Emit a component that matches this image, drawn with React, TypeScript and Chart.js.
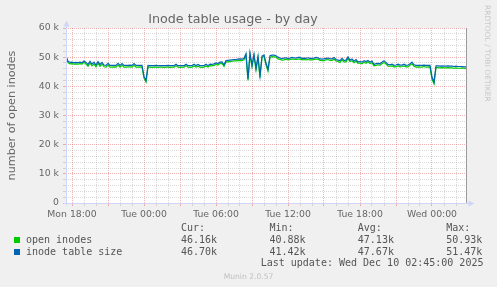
import React, { useEffect, useRef } from "react";
import { Chart, registerables } from "chart.js";

Chart.register(...registerables);

// Time axis: hours counted from Mon 00:00; samples every 10 minutes
const START_HOUR = 17.5; // Mon 17:30
const END_HOUR = 50 + 50 / 60; // Wed 02:50
const STEP_MINUTES = 10;

// inode table size (thousands)
const inodeTableSize = [
  50.4, 48.6, 48.2, 48.3, 48.1, 48.2, 48.1, 48.3, 48.1, 48.7,
  48.2, 47.5, 48.6, 47.6, 48.3, 47.3, 48.5, 47.5, 48.2, 47.3,
  47.2, 47.9, 47.2, 47.2, 47.2, 47.2, 47.9, 47.2, 47.8, 47.2,
  47.2, 47.2, 47.3, 47.2, 47.8, 47.2, 47.2, 47.2, 47.2, 43.4,
  42.0, 47.2, 47.1, 47.1, 47.1, 47.2, 47.1, 47.1, 47.1, 47.1,
  47.1, 47.2, 47.1, 47.1, 47.1, 47.6, 47.1, 47.1, 47.1, 47.1,
  47.6, 47.1, 47.1, 47.1, 47.6, 47.1, 47.5, 47.1, 47.1, 47.1,
  47.6, 47.1, 47.6, 47.5, 47.7, 48.0, 47.8, 48.3, 48.4, 47.4,
  48.8, 48.9, 49.0, 49.1, 49.2, 49.2, 49.3, 49.4, 49.3, 49.6,
  51.2, 42.5, 51.47, 47.2, 51.0, 46.2, 50.3, 43.6, 50.4, 50.8,
  48.0, 45.8, 50.5, 50.7, 50.7, 50.5, 50.0, 49.7, 49.5, 49.7,
  49.8, 49.6, 49.7, 49.9, 49.8, 49.7, 49.9, 49.9, 49.6, 49.7,
  49.6, 49.8, 49.6, 49.6, 49.7, 49.9, 49.8, 49.4, 49.3, 49.4,
  49.6, 49.7, 49.5, 49.4, 49.9, 49.2, 49.0, 48.8, 49.6, 48.9,
  49.0, 50.1, 49.0, 49.4, 48.6, 49.2, 48.4, 48.5, 48.3, 48.8,
  48.5, 48.9, 48.3, 48.7, 47.5, 47.8, 47.9, 47.8, 48.3, 48.8,
  48.2, 47.5, 47.4, 47.6, 47.2, 47.3, 47.6, 47.3, 47.3, 47.6,
  47.2, 47.3, 47.7, 48.3, 47.4, 47.2, 47.2, 47.2, 47.2, 47.3,
  47.2, 47.2, 47.2, 43.2, 41.42, 47.0, 47.0, 46.9, 47.0, 46.9,
  46.9, 47.0, 46.9, 46.9, 46.8, 46.9, 46.8, 46.8, 46.8, 46.7,
  46.7,
];

// open inodes (thousands)
const openInodes = [
  49.9, 48.1, 47.7, 47.8, 47.6, 47.7, 47.6, 47.8, 47.6, 48.2,
  47.6, 46.9, 48.0, 47.0, 47.7, 46.7, 47.9, 46.9, 47.6, 46.7,
  46.6, 47.3, 46.6, 46.6, 46.7, 46.6, 47.3, 46.6, 47.2, 46.6,
  46.6, 46.7, 46.7, 46.6, 47.2, 46.6, 46.6, 46.7, 46.6, 42.8,
  41.5, 46.6, 46.6, 46.5, 46.6, 46.6, 46.5, 46.6, 46.6, 46.5,
  46.6, 46.6, 46.5, 46.6, 46.6, 47.1, 46.6, 46.5, 46.6, 46.6,
  47.1, 46.6, 46.5, 46.6, 47.0, 46.6, 46.9, 46.6, 46.5, 46.6,
  47.0, 46.6, 47.1, 47.0, 47.2, 47.5, 47.3, 47.8, 47.9, 46.8,
  48.3, 48.4, 48.5, 48.6, 48.7, 48.7, 48.8, 48.9, 48.8, 49.1,
  50.6, 42.0, 50.93, 46.7, 50.5, 45.6, 49.8, 43.0, 49.9, 50.3,
  47.4, 45.2, 49.9, 50.2, 50.1, 50.0, 49.4, 49.2, 49.0, 49.1,
  49.3, 49.1, 49.2, 49.3, 49.3, 49.2, 49.3, 49.4, 49.1, 49.2,
  49.1, 49.2, 49.1, 49.1, 49.2, 49.3, 49.3, 48.9, 48.8, 48.8,
  49.1, 49.2, 48.9, 48.9, 49.3, 48.7, 48.5, 48.2, 49.1, 48.4,
  48.4, 49.6, 48.5, 48.8, 48.1, 48.6, 47.9, 48.0, 47.7, 48.3,
  47.9, 48.4, 47.8, 48.1, 47.0, 47.2, 47.4, 47.2, 47.8, 48.2,
  47.7, 46.9, 46.9, 47.0, 46.7, 46.7, 47.1, 46.7, 46.8, 47.0,
  46.7, 46.7, 47.2, 47.7, 46.9, 46.6, 46.7, 46.6, 46.6, 46.8,
  46.6, 46.7, 46.6, 42.4, 40.88, 46.4, 46.4, 46.3, 46.4, 46.3,
  46.3, 46.4, 46.3, 46.3, 46.2, 46.3, 46.2, 46.2, 46.3, 46.2,
  46.16,
];

const xLabelHours = [18, 24, 30, 36, 42, 48];
const xLabelTexts = ["Mon 18:00", "Tue 00:00", "Tue 06:00", "Tue 12:00", "Tue 18:00", "Wed 00:00"];

const seriesNames = ["open inodes", "inode table size"];
const seriesColors = ["#00CC00", "#0066B3"];
const curValues = ["46.16k", "46.70k"];
const minValues = ["40.88k", "41.42k"];
const avgValues = ["47.13k", "47.67k"];
const maxValues = ["50.93k", "51.47k"];

const TITLE = "Inode table usage - by day";
const Y_TITLE = "number of open inodes";
const LAST_UPDATE = "Last update: Wed Dec 10 02:45:00 2025";
const VERSION = "Munin 2.0.57";
const WATERMARK = "RRDTOOL / TOBI OETIKER";

const FONT_COLOR = "#666666";
const AXIS_COLOR = "#CFD6F8";
const MINOR_GRID = "rgba(143,143,143,0.32)";
const MAJOR_GRID = "rgba(222,79,79,0.42)";

const toPoints = (vals: number[]) =>
  vals.map((v, i) => ({ x: START_HOUR + (i * STEP_MINUTES) / 60, y: v }));

const framePlugin = {
  id: "muninFrame",
  beforeDraw(chart: any) {
    const { ctx, chartArea } = chart;
    ctx.save();
    ctx.fillStyle = "#F0F0F0";
    ctx.fillRect(0, 0, chart.width, chart.height);
    ctx.fillStyle = "#FFFFFF";
    ctx.fillRect(chartArea.left, chartArea.top, chartArea.right - chartArea.left, chartArea.bottom - chartArea.top);
    ctx.restore();
  },
  afterDraw(chart: any) {
    const { ctx, chartArea } = chart;
    const l = Math.round(chartArea.left) + 0.5;
    const b = Math.round(chartArea.bottom) + 0.5;
    const r = Math.round(chartArea.right) + 0.5;
    const t = Math.round(chartArea.top) + 0.5;
    ctx.save();
    // right frame line
    ctx.strokeStyle = "#9A9A9A";
    ctx.lineWidth = 1;
    ctx.beginPath();
    ctx.moveTo(r, t - 0.5);
    ctx.lineTo(r, b);
    ctx.stroke();
    // axes
    ctx.strokeStyle = AXIS_COLOR;
    ctx.beginPath();
    ctx.moveTo(l, b + 2);
    ctx.lineTo(l, t - 6);
    ctx.moveTo(l - 3, b);
    ctx.lineTo(r + 3, b);
    ctx.stroke();
    ctx.fillStyle = AXIS_COLOR;
    ctx.beginPath();
    ctx.moveTo(l - 3, t - 2);
    ctx.lineTo(l + 3, t - 2);
    ctx.lineTo(l, t - 8);
    ctx.closePath();
    ctx.fill();
    ctx.beginPath();
    ctx.moveTo(r + 2, b - 3);
    ctx.lineTo(r + 2, b + 3);
    ctx.lineTo(r + 8, b);
    ctx.closePath();
    ctx.fill();
    ctx.restore();
  },
};

const mono = (left: number, top: number, color = "#555555"): React.CSSProperties => ({
  position: "absolute",
  left,
  top,
  fontFamily: "'DejaVu Sans Mono', monospace",
  fontSize: 10,
  lineHeight: "12px",
  color,
  whiteSpace: "pre",
});

export default function App() {
  const canvasRef = useRef<HTMLCanvasElement | null>(null);

  useEffect(() => {
    const canvas = canvasRef.current;
    if (!canvas) return;
    const tickFont = { family: "'DejaVu Sans', sans-serif", size: 9.3 };
    const chart = new Chart(canvas, {
      type: "line",
      data: {
        datasets: [
          {
            label: seriesNames[0],
            data: toPoints(openInodes),
            borderColor: seriesColors[0],
            backgroundColor: seriesColors[0],
            borderWidth: 1.2,
            pointRadius: 0,
            tension: 0,
            order: 2,
          },
          {
            label: seriesNames[1],
            data: toPoints(inodeTableSize),
            borderColor: seriesColors[1],
            backgroundColor: seriesColors[1],
            borderWidth: 1.2,
            pointRadius: 0,
            tension: 0,
            order: 1,
          },
        ],
      },
      options: {
        animation: false,
        responsive: false,
        devicePixelRatio: 1,
        layout: { padding: { left: 0, right: 31, top: 0, bottom: 0 } },
        plugins: {
          legend: { display: false },
          tooltip: { enabled: false },
          title: {
            display: true,
            text: TITLE,
            color: FONT_COLOR,
            font: { family: "'DejaVu Sans', sans-serif", size: 12.7, weight: "normal" },
            padding: { top: 12, bottom: 0.76 },
          },
        },
        scales: {
          x: {
            type: "linear",
            min: START_HOUR,
            max: END_HOUR,
            afterFit: (s: any) => {
              s.height = 84;
            },
            ticks: {
              stepSize: 1,
              includeBounds: false,
              autoSkip: false,
              maxRotation: 0,
              minRotation: 0,
              padding: 3,
              color: FONT_COLOR,
              font: tickFont,
              callback: (v: any) => {
                const k = xLabelHours.indexOf(Math.round(Number(v) * 1000) / 1000);
                return k >= 0 ? xLabelTexts[k] : "";
              },
            },
            grid: {
              color: (c: any) => (c.tick && Math.round(c.tick.value) % 3 === 0 ? MAJOR_GRID : MINOR_GRID),
              tickColor: (c: any) => (c.tick && Math.round(c.tick.value) % 3 === 0 ? MAJOR_GRID : MINOR_GRID),
              tickLength: 3,
              lineWidth: 1,
            },
            border: { display: false, dash: [1, 1] },
          },
          y: {
            type: "linear",
            min: 0,
            max: 60,
            afterFit: (s: any) => {
              s.width = 66;
            },
            ticks: {
              stepSize: 2,
              autoSkip: false,
              padding: 4,
              color: FONT_COLOR,
              font: tickFont,
              callback: (v: any) => {
                const n = Math.round(Number(v));
                if (n % 10 !== 0) return "";
                return n === 0 ? "0" : `${n} k`;
              },
            },
            grid: {
              color: (c: any) => (c.tick && Math.round(c.tick.value) % 10 === 0 ? MAJOR_GRID : MINOR_GRID),
              tickColor: (c: any) => (c.tick && Math.round(c.tick.value) % 10 === 0 ? MAJOR_GRID : MINOR_GRID),
              tickLength: 3,
              lineWidth: 1,
            },
            border: { display: false, dash: [1, 1] },
            title: {
              display: true,
              text: Y_TITLE,
              color: FONT_COLOR,
              font: { family: "'DejaVu Sans', sans-serif", size: 11.2 },
              padding: { top: 5, bottom: 0 },
            },
          },
        },
      } as any,
      plugins: [framePlugin],
    });
    return () => chart.destroy();
  }, []);

  const colLeft = [181, 269.5, 357.8, 446.2];
  const rowTop = [233.5, 245.5];

  return (
    <div
      style={{
        position: "fixed",
        left: 0,
        top: 0,
        width: 497,
        height: 287,
        background: "#F0F0F0",
        overflow: "hidden",
      }}
    >
      <canvas ref={canvasRef} width={497} height={287} style={{ position: "absolute", left: 0, top: 0, width: 497, height: 287 }} />
      <div style={mono(colLeft[0], 221.5)}>Cur:</div>
      <div style={mono(colLeft[1], 221.5)}>Min:</div>
      <div style={mono(colLeft[2], 221.5)}>Avg:</div>
      <div style={mono(colLeft[3], 221.5)}>Max:</div>
      {seriesNames.map((name, i) => (
        <React.Fragment key={name}>
          <div style={{ position: "absolute", left: 14, top: 237 + i * 12, width: 6, height: 6, background: seriesColors[i] }} />
          <div style={mono(26, rowTop[i])}>{name}</div>
          <div style={mono(colLeft[0], rowTop[i])}>{curValues[i]}</div>
          <div style={mono(colLeft[1], rowTop[i])}>{minValues[i]}</div>
          <div style={mono(colLeft[2], rowTop[i])}>{avgValues[i]}</div>
          <div style={mono(colLeft[3], rowTop[i])}>{maxValues[i]}</div>
        </React.Fragment>
      ))}
      <div style={mono(260.7, 257.2)}>{LAST_UPDATE}</div>
      <div
        style={{
          position: "absolute",
          left: 0,
          width: 497,
          top: 271.9,
          textAlign: "center",
          fontFamily: "'DejaVu Sans', sans-serif",
          fontSize: 7.6,
          lineHeight: "9px",
          color: "#C0C0C0",
          whiteSpace: "pre",
        }}
      >
        {VERSION}
      </div>
      <div
        style={{
          position: "absolute",
          left: 491.8,
          top: 5,
          transformOrigin: "0 0",
          transform: "rotate(90deg)",
          fontFamily: "'DejaVu Sans', sans-serif",
          fontSize: 7.5,
          lineHeight: "9px",
          color: "#C8C8C8",
          whiteSpace: "pre",
        }}
      >
        {WATERMARK}
      </div>
    </div>
  );
}
